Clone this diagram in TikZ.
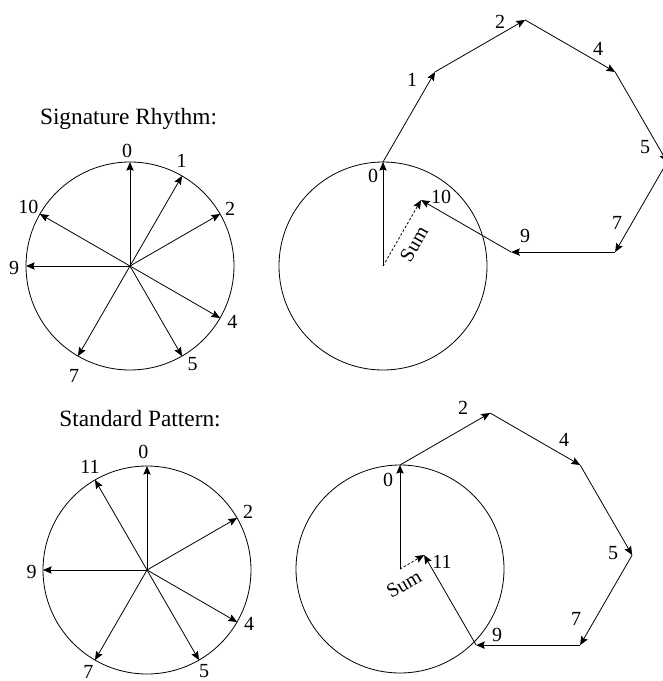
\documentclass[tikz,border=0pt]{standalone}
\usepackage{fontspec}
\setmainfont{Liberation Serif}
\usetikzlibrary{arrows.meta,calc}
\tikzset{
  vec/.style={line width=0.6pt, -{Stealth[length=6.5pt,width=5.5pt,inset=1pt]}},
  sumvec/.style={vec, dash pattern=on 1.8pt off 1.5pt},
  ring/.style={line width=0.6pt},
  num/.style={inner sep=0pt, font=\fontsize{15}{15}\selectfont},
  ttl/.style={inner sep=0pt, anchor=base, font=\fontsize{17.5}{18}\selectfont},
}
\begin{document}
\begin{tikzpicture}[x=0.75pt,y=-0.75pt]
\useasboundingbox (0,0) rectangle (662,681);

% ---------- Signature rhythm: left circle ----------
\node[ttl] (t1) at (128.5,125) {Signature Rhythm:};
\coordinate (c1) at (130,266);
\draw[ring] (c1) circle[radius=104];
\foreach \k in {0,1,2,4,5,7,9,10}{
  \coordinate (a\k) at ($(c1)+({30*\k-90}:104)$);
  \draw[vec] (c1) -- (a\k);
}
\node[num] (la0) at (127,150.5) {0};
\node[num] (la1) at (181.7,160.5) {1};
\node[num] (la2) at (230,209) {2};
\node[num] (la4) at (232.3,321.7) {4};
\node[num] (la5) at (192.7,364) {5};
\node[num] (la7) at (74,376) {7};
\node[num] (la9) at (14,268.3) {9};
\node[num] (la10) at (28.3,206.7) {10};

% ---------- Signature rhythm: chained vectors ----------
\coordinate (c2) at (383,266);
\draw[ring] (c2) circle[radius=104];
\coordinate (b0) at ($(c2)+(-90:104)$);
\coordinate (b1) at ($(b0)+(-60:104)$);
\coordinate (b2) at ($(b1)+(-30:104)$);
\coordinate (b4) at ($(b2)+(30:104)$);
\coordinate (b5) at ($(b4)+(60:104)$);
\coordinate (b7) at ($(b5)+(120:104)$);
\coordinate (b9) at ($(b7)+(180:104)$);
\coordinate (b10) at ($(b9)+(210:104)$);
\draw[vec] (c2) -- (b0);
\draw[vec] (b0) -- (b1);
\draw[vec] (b1) -- (b2);
\draw[vec] (b2) -- (b4);
\draw[vec] (b4) -- (b5);
\draw[vec] (b5) -- (b7);
\draw[vec] (b7) -- (b9);
\draw[vec] (b9) -- (b10);
\draw[sumvec] (c2) -- (b10);
\node[num] (lb0) at (373,176) {0};
\node[num] (lb1) at (412,80) {1};
\node[num] (lb2) at (500,22) {2};
\node[num] (lb4) at (598,49) {4};
\node[num] (lb5) at (645,147) {5};
\node[num] (lb7) at (617,223) {7};
\node[num] (lb9) at (525,236) {9};
\node[num] (lb10) at (441,197) {10};
\node[num, rotate=60] (sb) at (414,244) {Sum};

% ---------- Standard pattern: left circle ----------
\node[ttl] (t2) at (140,426) {Standard Pattern:};
\coordinate (c3) at (147,570);
\draw[ring] (c3) circle[radius=104];
\foreach \k in {0,2,4,5,7,9,11}{
  \coordinate (d\k) at ($(c3)+({30*\k-90}:104)$);
  \draw[vec] (c3) -- (d\k);
}
\node[num] (ld0) at (143.3,451.7) {0};
\node[num] (ld11) at (90,467.3) {11};
\node[num] (ld2) at (248,512) {2};
\node[num] (ld4) at (249,624) {4};
\node[num] (ld5) at (204,671) {5};
\node[num] (ld7) at (88.3,672) {7};
\node[num] (ld9) at (31.7,571.7) {9};

% ---------- Standard pattern: chained vectors ----------
\coordinate (c4) at (400,569);
\draw[ring] (c4) circle[radius=104];
\coordinate (e0) at ($(c4)+(-90:104)$);
\coordinate (e2) at ($(e0)+(-30:104)$);
\coordinate (e4) at ($(e2)+(30:104)$);
\coordinate (e5) at ($(e4)+(60:104)$);
\coordinate (e7) at ($(e5)+(120:104)$);
\coordinate (e9) at ($(e7)+(180:104)$);
\coordinate (e11) at ($(e9)+(240:104)$);
\draw[vec] (c4) -- (e0);
\draw[vec] (e0) -- (e2);
\draw[vec] (e2) -- (e4);
\draw[vec] (e4) -- (e5);
\draw[vec] (e5) -- (e7);
\draw[vec] (e7) -- (e9);
\draw[vec] (e9) -- (e11);
\draw[sumvec] (c4) -- (e11);
\node[num] (le0) at (388,480) {0};
\node[num] (le2) at (463,408) {2};
\node[num] (le4) at (564,440) {4};
\node[num] (le5) at (613,553) {5};
\node[num] (le7) at (576,619) {7};
\node[num] (le9) at (497,635) {9};
\node[num] (le11) at (442,562) {11};
\node[num, rotate=30] (se) at (404,584) {Sum};
\end{tikzpicture}
\end{document}
